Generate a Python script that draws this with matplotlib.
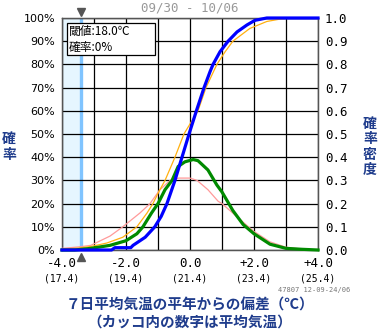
import numpy as np
import matplotlib.pyplot as plt
from matplotlib.patches import Rectangle
from matplotlib.transforms import blended_transform_factory

plt.rcParams['font.family'] = ['Noto Sans CJK JP', 'DejaVu Sans']

# anomaly (degC) and values
x_fc_cdf = [-4.0, -2.45, -2.35, -1.85, -1.78, -1.4, -1.1, -0.9, -0.72, -0.47, -0.25, -0.03,
            0.2, 0.44, 0.63, 0.72, 0.94, 1.19, 1.47, 1.78, 2.03, 2.4, 4.0]
fc_cdf = [0.0, 0.0, 0.01, 0.01, 0.02, 0.055, 0.10, 0.145, 0.20, 0.30, 0.40, 0.50,
          0.60, 0.70, 0.77, 0.80, 0.855, 0.90, 0.94, 0.97, 0.99, 1.0, 1.0]

x_cl_cdf = [-4.0, -3.5, -3.1, -2.6, -2.1, -1.66, -1.34, -1.16, -0.94, -0.78, -0.47, -0.19,
            0.25, 0.5, 0.84, 1.1, 1.34, 1.87, 2.4, 2.8, 3.1, 4.0]
cl_cdf = [0.004, 0.008, 0.015, 0.03, 0.055, 0.10, 0.16, 0.20, 0.26, 0.30, 0.40, 0.50,
          0.60, 0.70, 0.80, 0.855, 0.90, 0.955, 0.985, 0.995, 1.0, 1.0]

x_fc_pdf = [-4.0, -3.6, -3.1, -2.5, -2.0, -1.66, -1.47, -1.2, -1.0, -0.78, -0.56, -0.37,
            -0.16, 0.1, 0.25, 0.56, 0.84, 1.0, 1.34, 1.66, 2.0, 2.5, 3.0, 3.5, 4.0]
fc_pdf = [0.0, 0.0, 0.007, 0.02, 0.04, 0.07, 0.10, 0.16, 0.20, 0.26, 0.30, 0.36,
          0.38, 0.39, 0.385, 0.345, 0.28, 0.25, 0.17, 0.11, 0.07, 0.025, 0.007, 0.003, 0.0]

x_cl_pdf = [-4.0, -3.5, -3.1, -2.5, -2.1, -1.56, -1.25, -0.94, -0.62, -0.35, 0.0, 0.22,
            0.56, 0.88, 1.0, 1.66, 2.0, 2.5, 3.0, 3.5, 4.0]
cl_pdf = [0.007, 0.013, 0.02, 0.06, 0.10, 0.16, 0.20, 0.26, 0.30, 0.31, 0.31, 0.30,
          0.26, 0.21, 0.20, 0.12, 0.08, 0.035, 0.012, 0.004, 0.0]

xticks = [-4.0, -2.0, 0.0, 2.0, 4.0]
xtick_labels = ['-4.0', '-2.0', '0.0', '+2.0', '+4.0']
mean_labels = ['(17.4)', '(19.4)', '(21.4)', '(23.4)', '(25.4)']
threshold = -3.4

W, H = 379, 330
fig = plt.figure(figsize=(W / 100, H / 100), dpi=100)
ax = fig.add_axes([62 / W, 80 / H, 256 / W, 232 / H])
ax2 = ax.twinx()

# threshold shading and line
ax.axvspan(-4.0, threshold, color='#e6f6ff', zorder=0)
ax.axvline(threshold, color='#80c4ff', lw=2.4, zorder=1)

ax.set_xlim(-4, 4)
ax.set_ylim(0, 1)
ax2.set_ylim(0, 1)
ax.set_xticks(xticks)
ax.set_xticks([-3, -1, 1, 3], minor=True)
ax.set_xticklabels(xtick_labels, family='DejaVu Sans Mono', fontsize=9)
ax.set_yticks(np.arange(0, 1.01, 0.1))
ax.set_yticklabels(['%d%%' % v for v in range(0, 101, 10)], family='DejaVu Sans', fontsize=8)
ax2.set_yticks(np.arange(0, 1.01, 0.1))
ax2.set_yticklabels(['%.1f' % v for v in np.arange(0, 1.01, 0.1)], family='DejaVu Sans Mono', fontsize=9)
ax.tick_params(axis='both', which='both', length=0)
ax.tick_params(axis='y', pad=5)
ax.tick_params(axis='x', pad=5)
ax2.tick_params(axis='y', length=0, pad=5)
ax.grid(True, which='both', axis='x', color='black', lw=0.9)
ax.grid(True, which='major', axis='y', color='black', lw=0.9)
for a in (ax, ax2):
    for s in a.spines.values():
        s.set_color('#555555')
        s.set_linewidth(0.9)

# curves
ax2.plot(x_cl_pdf, cl_pdf, color='#ff9a9a', lw=0.9, zorder=3)
ax2.plot(x_cl_cdf, cl_cdf, color='#ffb010', lw=0.9, zorder=3)
ax2.plot(x_fc_pdf, fc_pdf, color='#008a00', lw=2.3, zorder=4, clip_on=False)
ax2.plot(x_fc_cdf, fc_cdf, color='#0000ff', lw=2.3, zorder=5, clip_on=False)

# parenthetical mean temps
tr = blended_transform_factory(ax.transData, ax.transAxes)
for xv, lab in zip(xticks, mean_labels):
    ax.text(xv, -0.121, lab, transform=tr, ha='center', va='center',
            family='DejaVu Sans Mono', fontsize=7)

# threshold markers
ax.plot([threshold], [1.026], marker='v', color='#555555', ms=6, transform=tr,
        clip_on=False, zorder=6)
ax.plot([threshold], [-0.03], marker='^', color='#555555', ms=6, transform=tr,
        clip_on=False, zorder=6)

# annotation box
ax2.add_patch(Rectangle((0.0195, 0.841), 0.344, 0.137, transform=ax.transAxes,
                        fc='white', ec='black', lw=0.9, zorder=9))
ax2.text(0.027, 0.940, '閾値:18.0℃', transform=ax.transAxes, ha='left', va='center',
         fontsize=8.5, zorder=10)
ax2.text(0.027, 0.875, '確率:0%', transform=ax.transAxes, ha='left', va='center',
         fontsize=8.5, zorder=10)

def ftext(x, y, s, **kw):
    fig.text(x / W, 1 - y / H, s, **kw)

ftext(190, 8, '09/30 - 10/06', ha='center', va='center', color='#999999',
      family='DejaVu Sans Mono', fontsize=9)
ftext(9, 147, '確\n率', ha='center', va='center', color='#1f3c8c', fontsize=10,
      fontweight='bold', linespacing=1.1)
ftext(370, 147, '確\n率\n密\n度', ha='center', va='center', color='#1f3c8c', fontsize=10,
      fontweight='bold', linespacing=1.1)
ftext(350, 290, '47807 12-09-24/06', ha='right', va='center', color='#777777',
      family='DejaVu Sans Mono', fontsize=5)
ftext(190, 305, '７日平均気温の平年からの偏差（℃）', ha='center', va='center',
      color='#1f3c8c', fontsize=10.5, fontweight='bold')
ftext(190, 322, '（カッコ内の数字は平均気温）', ha='center', va='center',
      color='#1f3c8c', fontsize=10.5, fontweight='bold')

fig.savefig('out.png', dpi=100)
